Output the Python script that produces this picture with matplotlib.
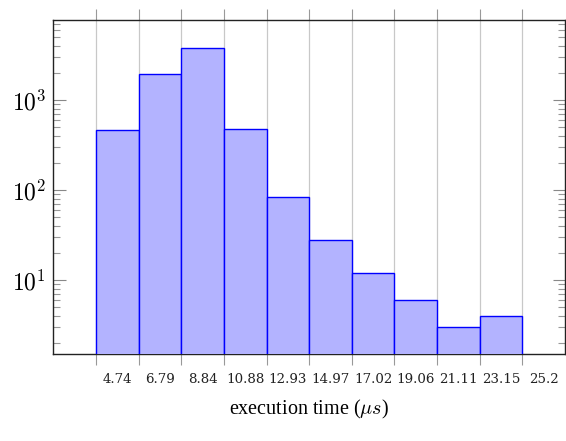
import numpy as np
import matplotlib
matplotlib.use("Agg")
import matplotlib.pyplot as plt
from matplotlib.ticker import FixedLocator, FuncFormatter, LogLocator, NullFormatter

plt.rcParams['mathtext.fontset'] = 'cm'
plt.rcParams['font.family'] = 'serif'
plt.rcParams['font.serif'] = ['DejaVu Serif']

edges = [4.74, 6.79, 8.84, 10.88, 12.93, 14.97, 17.02, 19.06, 21.11, 23.15, 25.2]
edge_labels = ["4.74", "6.79", "8.84", "10.88", "12.93", "14.97", "17.02", "19.06", "21.11", "23.15", "25.2"]
counts = [464, 1944, 3812, 482, 84, 28, 12, 6, 3, 4]

fig = plt.figure(figsize=(5.66, 4.41), dpi=100)
ax = fig.add_axes([53/566, 87/441, 512/566, 334/441])

e = np.array(edges)
widths = np.diff(e)
ax.bar(e[:-1], counts, width=widths, align='edge', bottom=1e-3,
       color='#b3b3ff', edgecolor='#0000ff', linewidth=1.0, zorder=3)

ax.set_yscale('log')
ax.set_xlim(2.68, 27.25)
ax.set_ylim(1.51, 7740)

# major ticks at bin edges, labels placed at bin centers (pgfplots style)
ax.xaxis.set_major_locator(FixedLocator(edges))
ax.xaxis.set_major_formatter(NullFormatter())
half = widths.mean() / 2
centers = [v + half for v in edges]
ax.xaxis.set_minor_locator(FixedLocator(centers))
ax.xaxis.set_minor_formatter(FuncFormatter(lambda v, p: edge_labels[p] if p is not None and p < len(edge_labels) else ""))
ax.tick_params(axis='x', which='major', direction='out', length=8, width=0.8,
               color='#999999', top=True, bottom=True)
ax.tick_params(axis='x', which='minor', length=0, labelsize=9.6, pad=14, labelcolor='#222222')
for lbl in ax.xaxis.get_minorticklabels():
    lbl.set_fontfamily('DejaVu Serif')
ax.grid(True, axis='x', which='major', color='#c8c8c8', linewidth=0.9, zorder=0)
ax.set_axisbelow(True)

ax.yaxis.set_major_locator(LogLocator(base=10, numticks=10))
ax.yaxis.set_minor_locator(LogLocator(base=10, subs=np.arange(2, 10), numticks=20))
ax.yaxis.set_major_formatter(FuncFormatter(lambda v, p: r"$10^{%d}$" % int(round(np.log10(v)))))
ax.yaxis.set_minor_formatter(NullFormatter())
ax.tick_params(axis='y', which='major', direction='in', length=9, width=0.8,
               color='#888888', left=True, right=True, labelsize=17, pad=5)
ax.tick_params(axis='y', which='minor', direction='in', length=5, width=0.8,
               color='#999999', left=True, right=True)

for s in ax.spines.values():
    s.set_color('#222222')
    s.set_linewidth(1.0)
ax.spines['bottom'].set_zorder(2)

ax.set_xlabel(r"execution time ($\mu s$)", fontsize=14.5, labelpad=8,
              fontfamily=['Liberation Serif', 'DejaVu Serif'])

fig.savefig("out.png", dpi=100)
